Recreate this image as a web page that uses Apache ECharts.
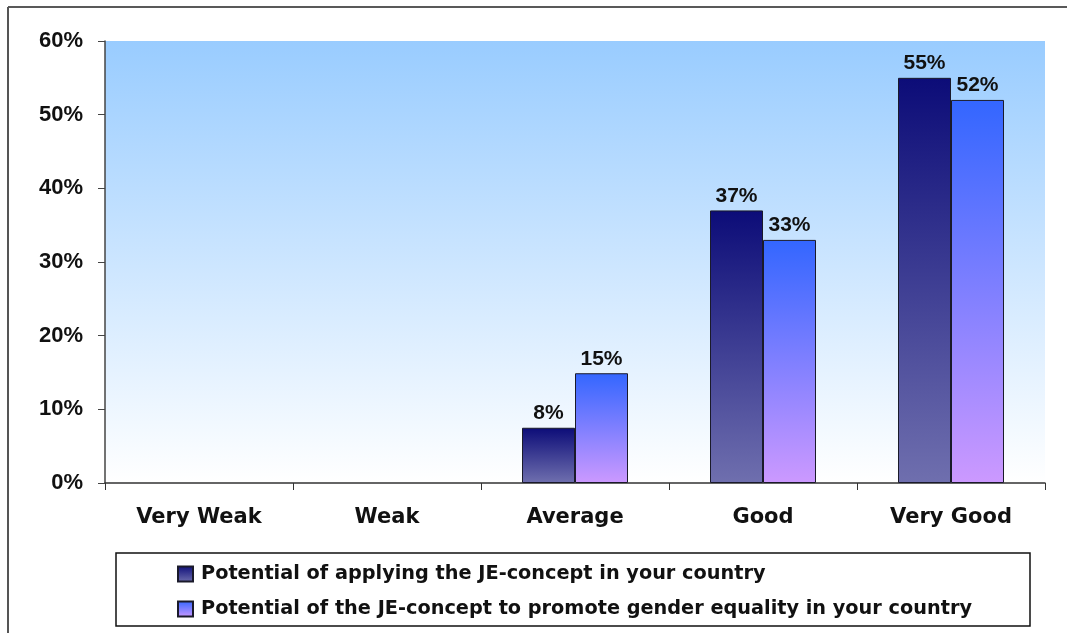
<!DOCTYPE html>
<html>
<head>
<meta charset="utf-8">
<style>html,body{margin:0;padding:0;background:#fff;}#c{width:1067px;height:633px;}</style>
<script src="https://cdn.jsdelivr.net/npm/echarts@6/dist/echarts.min.js"></script>
</head>
<body>
<div id="c"></div>
<script>
const categories = ['Very Weak', 'Weak', 'Average', 'Good', 'Very Good'];
const seriesNames = [
  'Potential of applying the JE-concept in your country',
  'Potential of the JE-concept to promote gender equality in your country'
];
const applyingValues = [0, 0, 7.5, 37, 55];
const equalityValues = [0, 0, 14.9, 33, 52];
const yTicks = [0, 10, 20, 30, 40, 50, 60];

const chart = echarts.init(document.getElementById('c'), null, {renderer: 'canvas'});
const ARIAL = '"Liberation Sans", Arial, sans-serif';
const WIDE = '"DejaVu Sans", Verdana, sans-serif';
const grad = (top, bottom) => new echarts.graphic.LinearGradient(0, 0, 0, 1, [
  {offset: 0, color: top}, {offset: 1, color: bottom}
]);
const labelCfg = {
  show: true, position: 'top', distance: 4,
  fontFamily: ARIAL, fontWeight: 'bold', fontSize: 21, color: '#111',
  formatter: p => p.value ? Math.round(p.value) + '%' : ''
};
const asBars = arr => arr.map(v => (v === 0 ? '-' : v));

chart.setOption({
  animation: false,
  backgroundColor: '#fff',
  graphic: [
    {type: 'line', shape: {x1: 8, y1: 7, x2: 1067, y2: 7}, style: {stroke: '#222', lineWidth: 1.5}, silent: true},
    {type: 'line', shape: {x1: 8, y1: 7, x2: 8, y2: 633}, style: {stroke: '#555', lineWidth: 2}, silent: true},
    {type: 'rect', shape: {x: 116, y: 553, width: 914, height: 73}, style: {fill: '#fff', stroke: '#111', lineWidth: 1.5}, z: -1, silent: true}
  ],
  grid: {
    left: 105, right: 22, top: 41, bottom: 150, show: true, borderWidth: 0,
    backgroundColor: grad('#99CCFF', '#FFFFFF')
  },
  legend: {
    orient: 'vertical', left: 172, top: 558, itemGap: 13,
    itemWidth: 15, itemHeight: 15, icon: 'rect',
    textStyle: {fontFamily: WIDE, fontWeight: 'bold', fontSize: 19.3, lineHeight: 22, color: '#111', padding: [0, 0, 0, 3]},
    data: seriesNames
  },
  xAxis: {
    type: 'category', data: categories,
    axisLine: {lineStyle: {color: '#333', width: 1.5}},
    axisTick: {show: true, alignWithLabel: false, length: 7, lineStyle: {color: '#333'}},
    axisLabel: {fontFamily: WIDE, fontWeight: 'bold', fontSize: 21, color: '#111', margin: 24}
  },
  yAxis: {
    type: 'value', min: 0, max: 60, interval: 10,
    axisLine: {show: true, lineStyle: {color: '#444', width: 1.5}},
    axisTick: {show: true, length: 7, lineStyle: {color: '#444'}},
    splitLine: {show: false},
    axisLabel: {fontFamily: ARIAL, fontWeight: 'bold', fontSize: 22, color: '#111', margin: 22,
      formatter: v => yTicks.includes(v) ? v + '%' : ''}
  },
  series: [
    {
      name: seriesNames[0], type: 'bar', data: asBars(applyingValues), barWidth: 53, barGap: '0%',
      itemStyle: {color: grad('#0C0C78', '#6F6FAE'), borderColor: '#1a1a2a', borderWidth: 1},
      label: labelCfg
    },
    {
      name: seriesNames[1], type: 'bar', data: asBars(equalityValues), barWidth: 53, barGap: '0%',
      itemStyle: {color: grad('#3366FF', '#CC99FF'), borderColor: '#1a1a2a', borderWidth: 1},
      label: labelCfg
    }
  ]
});
</script>
</body>
</html>
